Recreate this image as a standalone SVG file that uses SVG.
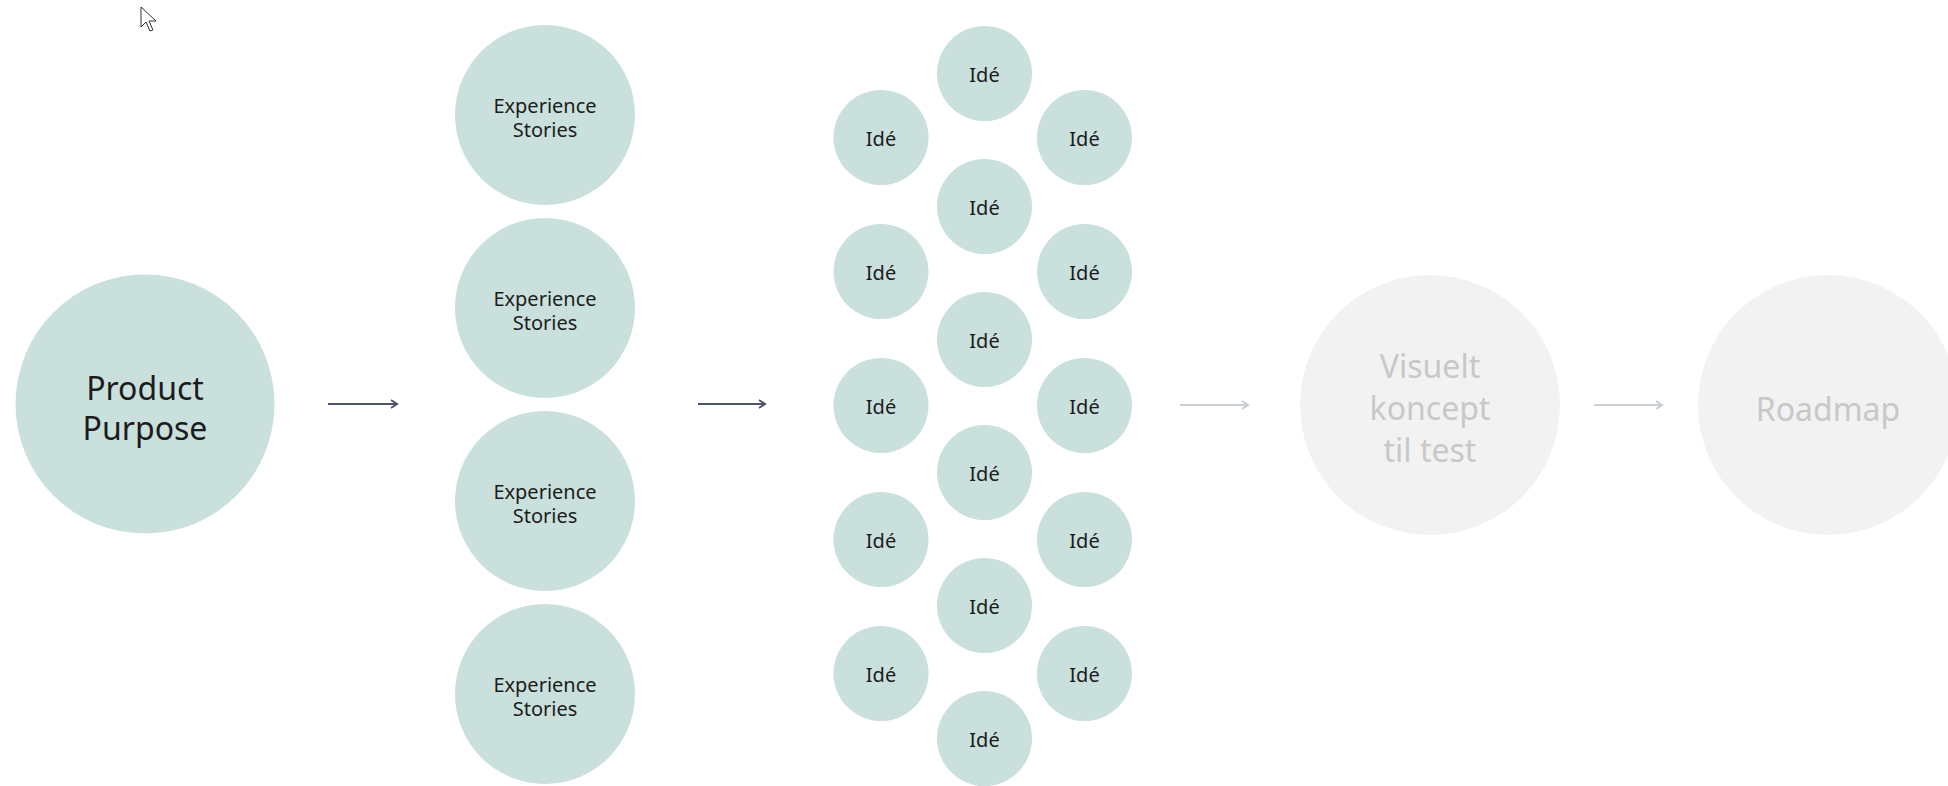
<svg xmlns="http://www.w3.org/2000/svg" width="1948" height="786" viewBox="0 0 1948 786">
<defs>
<marker id="ad" markerWidth="12" markerHeight="12" refX="9" refY="6" orient="auto" markerUnits="userSpaceOnUse"><path d="M3,2 L9,6 L3,10" fill="none" stroke="#4b5567" stroke-width="2"/></marker>
<marker id="al" markerWidth="12" markerHeight="12" refX="9" refY="6" orient="auto" markerUnits="userSpaceOnUse"><path d="M3,2 L9,6 L3,10" fill="none" stroke="#c9ced6" stroke-width="2"/></marker>
</defs>
<style>
.c{fill:#c9e0dc}
.g{fill:#f2f2f2}
.t{font-family:"Noto Sans","Liberation Sans",sans-serif;fill:#1c1c1c;text-anchor:middle}
.s{font-size:20px}
.b{font-size:32px}
.l{font-family:"Noto Sans","Liberation Sans",sans-serif;fill:#c8c8c8;text-anchor:middle;font-size:32px}
.ad{stroke:#4b5567;stroke-width:2;fill:none}
.al{stroke:#c9ced6;stroke-width:2;fill:none}
</style>
<rect width="1948" height="786" fill="#ffffff"/>
<path d="M141,7 L141,27 L146,22 L150,31 L153,30 L149,21 L156,21 Z" fill="#fff" stroke="#333" stroke-width="1"/>
<g id="connectors">
<line class="ad" x1="328" y1="404" x2="397" y2="404" marker-end="url(#ad)"/>
<line class="ad" x1="698" y1="404" x2="765" y2="404" marker-end="url(#ad)"/>
<line class="al" x1="1180" y1="405" x2="1248" y2="405" marker-end="url(#al)"/>
<line class="al" x1="1594" y1="405" x2="1662" y2="405" marker-end="url(#al)"/>
</g>
<g id="product-purpose"><circle class="c" cx="145" cy="404" r="129.5"/><text class="t b" x="145" y="400">Product</text><text class="t b" x="145" y="440">Purpose</text></g>
<g id="exp1"><circle class="c" cx="545" cy="115" r="90"/><text class="t s" x="545" y="113">Experience</text><text class="t s" x="545" y="137">Stories</text></g>
<g id="exp2"><circle class="c" cx="545" cy="308" r="90"/><text class="t s" x="545" y="306">Experience</text><text class="t s" x="545" y="330">Stories</text></g>
<g id="exp3"><circle class="c" cx="545" cy="501" r="90"/><text class="t s" x="545" y="499">Experience</text><text class="t s" x="545" y="523">Stories</text></g>
<g id="exp4"><circle class="c" cx="545" cy="694" r="90"/><text class="t s" x="545" y="692">Experience</text><text class="t s" x="545" y="716">Stories</text></g>
<g id="ide-c1"><circle class="c" cx="984.5" cy="73.5" r="47.5"/><text class="t s" x="984.5" y="82">Idé</text></g>
<g id="ide-c2"><circle class="c" cx="984.5" cy="206.5" r="47.5"/><text class="t s" x="984.5" y="215">Idé</text></g>
<g id="ide-c3"><circle class="c" cx="984.5" cy="339.5" r="47.5"/><text class="t s" x="984.5" y="348">Idé</text></g>
<g id="ide-c4"><circle class="c" cx="984.5" cy="472.5" r="47.5"/><text class="t s" x="984.5" y="481">Idé</text></g>
<g id="ide-c5"><circle class="c" cx="984.5" cy="605.5" r="47.5"/><text class="t s" x="984.5" y="614">Idé</text></g>
<g id="ide-c6"><circle class="c" cx="984.5" cy="738.5" r="47.5"/><text class="t s" x="984.5" y="747">Idé</text></g>
<g id="ide-l1"><circle class="c" cx="881" cy="137.5" r="47.5"/><text class="t s" x="881" y="146">Idé</text></g>
<g id="ide-l2"><circle class="c" cx="881" cy="271.5" r="47.5"/><text class="t s" x="881" y="280">Idé</text></g>
<g id="ide-l3"><circle class="c" cx="881" cy="405.5" r="47.5"/><text class="t s" x="881" y="414">Idé</text></g>
<g id="ide-l4"><circle class="c" cx="881" cy="539.5" r="47.5"/><text class="t s" x="881" y="548">Idé</text></g>
<g id="ide-l5"><circle class="c" cx="881" cy="673.5" r="47.5"/><text class="t s" x="881" y="682">Idé</text></g>
<g id="ide-r1"><circle class="c" cx="1084.5" cy="137.5" r="47.5"/><text class="t s" x="1084.5" y="146">Idé</text></g>
<g id="ide-r2"><circle class="c" cx="1084.5" cy="271.5" r="47.5"/><text class="t s" x="1084.5" y="280">Idé</text></g>
<g id="ide-r3"><circle class="c" cx="1084.5" cy="405.5" r="47.5"/><text class="t s" x="1084.5" y="414">Idé</text></g>
<g id="ide-r4"><circle class="c" cx="1084.5" cy="539.5" r="47.5"/><text class="t s" x="1084.5" y="548">Idé</text></g>
<g id="ide-r5"><circle class="c" cx="1084.5" cy="673.5" r="47.5"/><text class="t s" x="1084.5" y="682">Idé</text></g>
<g id="visuelt"><circle class="g" cx="1430" cy="405" r="130"/><text class="l" x="1430" y="378">Visuelt</text><text class="l" x="1430" y="420">koncept</text><text class="l" x="1430" y="462">til test</text></g>
<g id="roadmap"><circle class="g" cx="1828" cy="405" r="130"/><text class="l" x="1828" y="421">Roadmap</text></g>
</svg>
